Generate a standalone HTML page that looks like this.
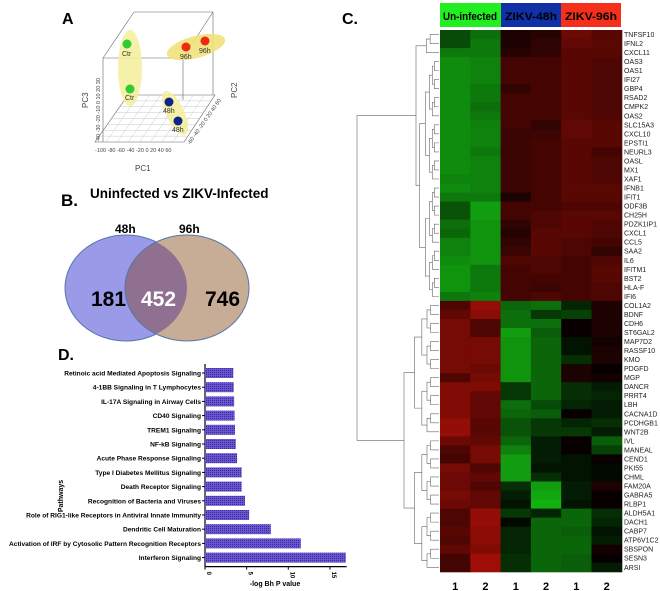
<!DOCTYPE html>
<html><head><meta charset="utf-8"><style>
body{margin:0;background:#fff;}
svg{display:block;font-family:"Liberation Sans",Arial,sans-serif;}
</style></head><body>
<svg id="fig" width="660" height="591" viewBox="0 0 660 591">
<!-- Panel A -->
<g>
<text x="62" y="24" font-size="16" font-weight="bold">A</text>
<g stroke="#666" stroke-width="0.6" fill="none">
<polyline points="134,12 213,12 213,95"/>
<line x1="134" y1="12" x2="103" y2="58"/><line x1="213" y1="12" x2="183" y2="58"/>
<polyline points="103,142 103,58 183,58 183,100"/>
<polygon points="95,142 184,142 215,95 128,95"/>
</g>
<g id="grid" stroke="#bbb" stroke-width="0.4"></g>
<ellipse cx="130" cy="68" rx="12" ry="38" fill="#f3ef9a" opacity="0.85"/>
<ellipse cx="196" cy="47" rx="30" ry="11" transform="rotate(-15 196 47)" fill="#f1e27a" opacity="0.9"/>
<ellipse cx="175" cy="113" rx="9" ry="24" transform="rotate(-25 175 113)" fill="#f3ef9a" opacity="0.85"/>
<g font-size="7" fill="#333">
<circle cx="127" cy="44" r="4.5" fill="#2ecc2e"/><text x="122" y="56">Ctr</text>
<circle cx="130" cy="89" r="4.5" fill="#2ecc2e"/><text x="125" y="100">Ctr</text>
<circle cx="186" cy="47" r="4.5" fill="#f02a10"/><text x="180" y="59">96h</text>
<circle cx="205" cy="41" r="4.5" fill="#f02a10"/><text x="199" y="53">96h</text>
<circle cx="169" cy="102" r="4.5" fill="#10238a"/><text x="163" y="113">48h</text>
<circle cx="178" cy="121" r="4.5" fill="#10238a"/><text x="172" y="132">48h</text>
</g>
<g font-size="5.5" fill="#444">
<text x="95" y="152">-100 -80 -60 -40 -20  0  20  40  60</text>
<text transform="translate(100,142) rotate(-90)">-40 -30 -20 -10  0  10  20  30</text>
<text transform="translate(190,145) rotate(-55)">-60 -40 -20  0  20  40  60</text>
</g>
<text x="135" y="171" font-size="8" fill="#444">PC1</text>
<text transform="translate(88,108) rotate(-90)" font-size="8" fill="#444">PC3</text>
<text transform="translate(237,98) rotate(-90)" font-size="8" fill="#444">PC2</text>
</g>
<!-- Panel B -->
<g>
<text x="61" y="206" font-size="17" font-weight="bold">B.</text>
<text x="90" y="198" font-size="13.5" font-weight="bold">Uninfected vs ZIKV-Infected</text>
<text x="115" y="233" font-size="12" font-weight="bold">48h</text>
<text x="179" y="233" font-size="12" font-weight="bold">96h</text>
<ellipse cx="126" cy="288" rx="61" ry="53" fill="#9a9ae8" stroke="#5577aa"/>
<ellipse cx="187" cy="288" rx="62" ry="53" fill="#c8ad96" stroke="#5577aa"/>
<clipPath id="cl"><ellipse cx="126" cy="288" rx="61" ry="53"/></clipPath>
<ellipse cx="187" cy="288" rx="62" ry="53" fill="#8f7090" stroke="#5577aa" clip-path="url(#cl)"/>
<text x="91" y="306" font-size="21" font-weight="bold">181</text>
<text x="141" y="306" font-size="21" font-weight="bold" fill="#fff">452</text>
<text x="205" y="306" font-size="21" font-weight="bold">746</text>
</g>
<!-- Panel D -->
<g id="pD">
<text x="58" y="360" font-size="16" font-weight="bold">D.</text>
<text transform="translate(63,496) rotate(-90)" font-size="7" font-weight="bold" text-anchor="middle">Pathways</text>
<text x="275" y="586" font-size="7" font-weight="bold" text-anchor="middle">-log Bh P value</text>
</g>
<!-- Panel C -->
<g id="pC">
<text x="342" y="24" font-size="16" font-weight="bold">C.</text>
<rect x="440" y="3" width="61" height="24" fill="#22ee22"/>
<rect x="501" y="3" width="60" height="24" fill="#1030a8"/>
<rect x="561" y="3" width="60" height="24" fill="#f4301c"/>
<text x="443" y="20" font-size="11" font-weight="bold" textLength="54" lengthAdjust="spacingAndGlyphs">Un-infected</text>
<text x="505" y="20" font-size="11" font-weight="bold" textLength="52" lengthAdjust="spacingAndGlyphs">ZIKV-48h</text>
<text x="565" y="20" font-size="11" font-weight="bold" textLength="52" lengthAdjust="spacingAndGlyphs">ZIKV-96h</text>
</g>
</svg>
<script>
const NS="http://www.w3.org/2000/svg";
// ---- Panel D data ----
const pathways=["Retinoic acid Mediated Apoptosis Signaling","4-1BB Signaling in T Lymphocytes","IL-17A Signaling in Airway Cells","CD40 Signaling","TREM1 Signaling","NF-kB Signaling","Acute Phase Response Signaling","Type I Diabetes Mellitus Signaling","Death Receptor Signaling","Recognition of Bacteria and Viruses","Role of RIG1-like Receptors in Antiviral Innate Immunity","Dendritic Cell Maturation","Activation of IRF by Cytosolic Pattern Recognition Receptors","Interferon Signaling"];
const pvals=[3.4,3.45,3.5,3.55,3.6,3.7,3.85,4.4,4.4,4.8,5.3,7.9,11.5,16.9];
const xticks=[0,5,10,15];
// ---- Panel C data ----
const genes=["TNFSF10","IFNL2","CXCL11","OAS3","OAS1","IFI27","GBP4","RSAD2","CMPK2","OAS2","SLC15A3","CXCL10","EPSTI1","NEURL3","OASL","MX1","XAF1","IFNB1","IFIT1","ODF3B","CH25H","PDZK1IP1","CXCL1","CCL5","SAA2","IL6","IFITM1","BST2","HLA-F","IFI6","COL1A2","BDNF","CDH6","ST6GAL2","MAP7D2","RASSF10","KMO","PDGFD","MGP","DANCR","PRRT4","LBH","CACNA1D","PCDHGB1","WNT2B","IVL","MANEAL","CEND1","PKI55","CHML","FAM20A","GABRA5","RLBP1","ALDH5A1","DACH1","CABP7","ATP6V1C2","SBSPON","SESN3","ARSI"];
const sampleLabels=["1","2","1","2","1","2"];
const expr=[
[-0.4,-0.6,0.1,0.15,0.5,0.4],[-0.4,-0.65,0.1,0.2,0.45,0.4],[-0.65,-0.65,0.15,0.2,0.4,0.4],[-0.75,-0.7,0.3,0.3,0.4,0.35],[-0.75,-0.7,0.3,0.3,0.4,0.35],[-0.75,-0.7,0.3,0.3,0.4,0.35],[-0.75,-0.65,0.2,0.3,0.4,0.35],[-0.75,-0.65,0.3,0.3,0.4,0.35],[-0.75,-0.6,0.3,0.3,0.4,0.35],[-0.75,-0.65,0.3,0.3,0.4,0.35],
[-0.75,-0.7,0.3,0.2,0.45,0.4],[-0.75,-0.7,0.25,0.25,0.45,0.4],[-0.75,-0.7,0.25,0.3,0.4,0.4],[-0.75,-0.65,0.25,0.3,0.4,0.3],[-0.75,-0.7,0.25,0.3,0.4,0.35],[-0.75,-0.7,0.25,0.3,0.4,0.35],[-0.7,-0.7,0.25,0.3,0.4,0.35],[-0.75,-0.7,0.25,0.3,0.4,0.4],[-0.65,-0.65,0.1,0.3,0.4,0.4],[-0.45,-0.85,0.3,0.3,0.35,0.35],
[-0.45,-0.85,0.3,0.35,0.4,0.4],[-0.6,-0.8,0.2,0.35,0.4,0.35],[-0.55,-0.8,0.15,0.4,0.4,0.35],[-0.7,-0.8,0.2,0.4,0.35,0.3],[-0.7,-0.8,0.25,0.4,0.35,0.2],[-0.75,-0.8,0.35,0.35,0.3,0.35],[-0.8,-0.65,0.3,0.35,0.3,0.4],[-0.8,-0.65,0.3,0.3,0.3,0.4],[-0.8,-0.65,0.3,0.25,0.3,0.35],[-0.65,-0.7,0.3,0.35,0.3,0.35],
[0.35,0.7,-0.55,-0.6,-0.2,0.1],[0.45,0.65,-0.6,-0.3,-0.35,0.1],[0.55,0.35,-0.6,-0.6,0,0.1],[0.55,0.35,-0.85,-0.5,0,0.1],[0.55,0.55,-0.8,-0.55,-0.1,0.05],[0.55,0.55,-0.8,-0.55,-0.1,0.1],[0.55,0.55,-0.8,-0.55,-0.25,0.1],[0.55,0.5,-0.8,-0.55,0.1,0],[0.35,0.55,-0.8,-0.55,0.1,0.05],[0.6,0.6,-0.3,-0.55,-0.25,-0.15],
[0.6,0.45,-0.3,-0.55,-0.25,-0.2],[0.6,0.45,-0.6,-0.4,-0.2,-0.15],[0.6,0.45,-0.55,-0.5,0,-0.15],[0.7,0.4,-0.45,-0.3,-0.2,-0.25],[0.7,0.4,-0.45,-0.3,-0.3,-0.15],[0.5,0.45,-0.55,-0.15,0,-0.5],[0.35,0.55,-0.7,-0.15,0,-0.35],[0.3,0.55,-0.85,-0.15,-0.1,0],[0.55,0.35,-0.85,-0.1,-0.1,-0.05],[0.5,0.45,-0.85,-0.25,-0.1,-0.05],
[0.5,0.35,-0.25,-0.85,-0.15,0.1],[0.55,0.45,-0.15,-0.9,-0.15,0],[0.5,0.45,-0.1,-0.95,-0.1,0],[0.35,0.7,-0.3,-0.2,-0.55,-0.25],[0.35,0.7,-0.05,-0.55,-0.55,-0.2],[0.4,0.65,-0.2,-0.55,-0.5,-0.1],[0.35,0.65,-0.2,-0.55,-0.55,-0.15],[0.45,0.6,-0.2,-0.55,-0.55,0.05],[0.3,0.75,-0.25,-0.55,-0.5,0],[0.3,0.75,-0.25,-0.55,-0.5,-0.15]
];
function mk(tag,attrs,parent){const e=document.createElementNS(NS,tag);for(const k in attrs)e.setAttribute(k,attrs[k]);parent.appendChild(e);return e;}
// floor grid
const grid=document.getElementById('grid');
for(let i=1;i<8;i++){const t=i/8;
 const l=mk('line',{x1:95+t*89,y1:142,x2:128+t*87,y2:95},grid);
 
 
 const m=mk('line',{x1:95+t*33,y1:142-t*47,x2:184+t*31,y2:142-t*47},grid);
 
 }
// Panel D
const pD=document.getElementById('pD');
const x0=205,xs=8.33,yTop=373,step=14.2,bh=10;
const xScale=v=>x0+v*xs, yScale=i=>yTop+i*step;
const defs=mk('defs',{},document.getElementById('fig'));
const pat=mk('pattern',{id:'hatch',width:2,height:2,patternUnits:'userSpaceOnUse'},defs);
mk('rect',{width:2,height:2,fill:'#6a56d0'},pat);
mk('rect',{width:1,height:1,fill:'#3a2a98'},pat);
mk('line',{x1:x0,y1:yScale(0)-9,x2:x0,y2:yScale(pathways.length-1)+9,stroke:'#000','stroke-width':1.2},pD);
mk('line',{x1:x0,y1:yScale(pathways.length-1)+9,x2:xScale(17),y2:yScale(pathways.length-1)+9,stroke:'#000','stroke-width':1.2},pD);
pathways.forEach((p,i)=>{
 const y=yScale(i);
 const r=mk('rect',{x:x0,y:y-bh/2,width:xScale(pvals[i])-x0,height:bh,fill:'url(#hatch)'},pD);
 
 
 mk('line',{x1:x0-3,y1:y,x2:x0,y2:y,stroke:'#000'},pD);
 const t=mk('text',{x:x0-4,y:y+2.5,'font-size':6.6,'font-weight':'bold','text-anchor':'end'},pD);
 t.textContent=p;
 
 
});
xticks.forEach(v=>{
 const x=xScale(v),y=yScale(pathways.length-1)+9;
 mk('line',{x1:x,y1:y,x2:x,y2:y+3,stroke:'#000'},pD);
 const t=mk('text',{transform:`translate(${x+2},${y+5}) rotate(90)`,'font-size':6,'font-weight':'bold'},pD);
 t.textContent=v;
 
 
});
// Panel C heatmap
const pC=document.getElementById('pC');
const hx0=440,cw=30.3,hy0=30,rh=9.03;
const colX=j=>hx0+j*cw, rowY=i=>hy0+i*rh;
function col(v){if(v>=0)return `rgb(${Math.round(200*v+8)},${Math.round(18*v)},${Math.round(8*v)})`;const a=-v;return `rgb(${Math.round(20*a)},${Math.round(185*a)},${Math.round(18*a)})`;}
expr.forEach((row,i)=>{row.forEach((v,j)=>{
 const r=mk('rect',{x:colX(j),y:rowY(i),width:cw+0.5,height:rh+0.5,fill:col(v)},pC);
 
 
});
 const t=mk('text',{x:624,y:rowY(i)+7,'font-size':7,fill:'#222'},pC);
 t.textContent=genes[i];
 
 
});
sampleLabels.forEach((s,j)=>{
 const t=mk('text',{x:colX(j)+cw/2,y:590,'font-size':11,'font-weight':'bold','text-anchor':'middle'},pC);
 t.textContent=s;
 
 
});
// dendrogram
const dg=mk('g',{stroke:'#666','stroke-width':0.6,fill:'none'},pC);


const leafX=439;
function tree(a,b,x){
 if(a===b)return rowY(a)+rh/2;
 const m=Math.floor((a+b)/2);
 const cx=x+(leafX-x)*0.3;
 const y1=tree(a,m,cx),y2=tree(m+1,b,cx);
 const e1=(m===a)?leafX:cx, e2=(m+1===b)?leafX:cx;
 mk('path',{d:`M${e1},${y1}H${x}V${y2}H${e2}`},dg);
 return (y1+y2)/2;
}
function topCluster(){const x=416;const xa=x+(leafX-x)*0.45,xb=x+(leafX-x)*0.15;const ya=tree(0,2,xa);const yb=tree(3,29,xb);
 mk('path',{d:`M${xa},${ya}H${x}V${yb}H${xb}`},dg);return (ya+yb)/2;}
const yTopC=topCluster(), yBotC=tree(30,59,404);
mk('path',{d:`M416,${yTopC}H357V${yBotC}H404`},dg);
</script>
</body></html>
